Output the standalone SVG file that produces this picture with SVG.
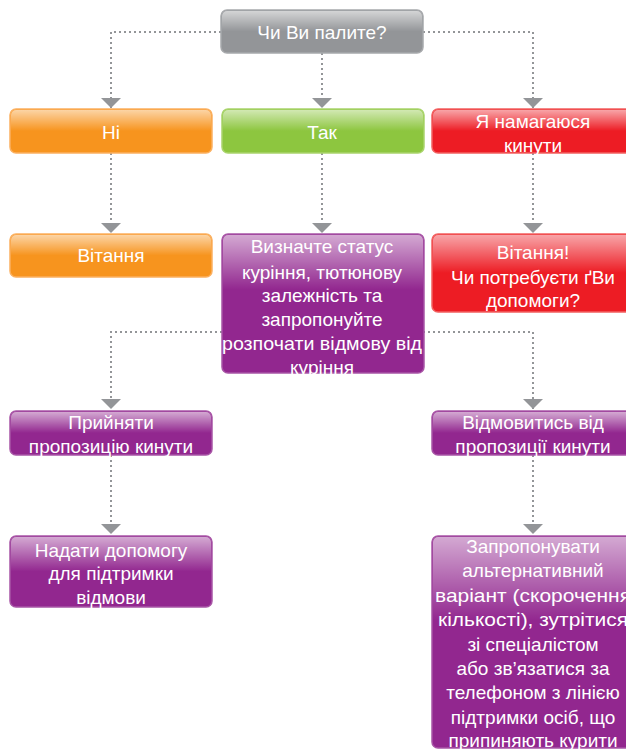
<svg xmlns="http://www.w3.org/2000/svg" width="626" height="750" viewBox="0 0 626 750">
<style>
  .lbl { font-family: "Liberation Sans", Arial, sans-serif; font-size: 19px; fill: #ffffff; text-anchor: middle; dominant-baseline: central; }
  .conn { fill: none; stroke: #939598; stroke-width: 2; stroke-dasharray: 2 3; marker-end: url(#arrow); }
  .gray { fill: #939598; stroke: #a7a9ac; }
  .orange { fill: #f7941e; stroke: #fbb060; }
  .green { fill: #8dc63f; stroke: #a9d46c; }
  .red { fill: #ed1c24; stroke: #f26060; }
  .purple { fill: #92278f; stroke: #a855a6; }
  .box { stroke-width: 1.5; }
  .gloss { stroke: none; }
</style>
<defs>
  <marker id="arrow" viewBox="0 0 10 20" markerWidth="10" markerHeight="20" refX="10" refY="10" orient="auto" markerUnits="userSpaceOnUse">
    <polygon points="0,0 10,10 0,20" fill="#939598"/>
  </marker>
  <linearGradient id="glossS" x1="0" y1="0" x2="0" y2="1">
    <stop offset="0" stop-color="#ffffff" stop-opacity="0.6"/>
    <stop offset="0.5" stop-color="#ffffff" stop-opacity="0"/>
  </linearGradient>
  <linearGradient id="glossT" x1="0" y1="0" x2="0" y2="1">
    <stop offset="0" stop-color="#ffffff" stop-opacity="0.6"/>
    <stop offset="0.4" stop-color="#ffffff" stop-opacity="0"/>
  </linearGradient>
</defs>

<g id="connectors">
  <path class="conn" d="M221,32 H111 V108"/>
  <path class="conn" d="M322,53 V108"/>
  <path class="conn" d="M423,32 H533 V108"/>
  <path class="conn" d="M111,153 V233"/>
  <path class="conn" d="M322,153 V233"/>
  <path class="conn" d="M533,153 V233"/>
  <path class="conn" d="M222,332 H111 V409"/>
  <path class="conn" d="M423,332 H533 V409"/>
  <path class="conn" d="M111,455 V534"/>
  <path class="conn" d="M533,455 V534"/>
</g>

<g id="n-smoke">
  <rect class="box gray" x="221" y="10" width="202" height="43" rx="6"/>
  <rect class="gloss" x="222" y="11" width="200" height="41" rx="5" fill="url(#glossS)"/>
  <text class="lbl" x="322" y="32">Чи Ви палите?</text>
</g>

<g id="n-no">
  <rect class="box orange" x="10" y="109" width="202" height="44" rx="6"/>
  <rect class="gloss" x="11" y="110" width="200" height="42" rx="5" fill="url(#glossS)"/>
  <text class="lbl" x="111" y="132">Ні</text>
</g>

<g id="n-yes">
  <rect class="box green" x="222" y="109" width="202" height="44" rx="6"/>
  <rect class="gloss" x="223" y="110" width="200" height="42" rx="5" fill="url(#glossS)"/>
  <text class="lbl" x="322" y="132">Так</text>
</g>

<g id="n-trying">
  <rect class="box red" x="432" y="109" width="202" height="44" rx="6"/>
  <rect class="gloss" x="433" y="110" width="200" height="42" rx="5" fill="url(#glossS)"/>
  <text class="lbl" x="533" y="121">Я намагаюся</text>
  <text class="lbl" x="533" y="145">кинути</text>
</g>

<g id="n-congrats">
  <rect class="box orange" x="10" y="234" width="202" height="43" rx="6"/>
  <rect class="gloss" x="11" y="235" width="200" height="41" rx="5" fill="url(#glossS)"/>
  <text class="lbl" x="111" y="255">Вітання</text>
</g>

<g id="n-assess">
  <rect class="box purple" x="222" y="234" width="202" height="139" rx="6"/>
  <rect class="gloss" x="223" y="235" width="200" height="137" rx="5" fill="url(#glossT)"/>
  <text class="lbl" x="322" y="246">Визначте статус</text>
  <text class="lbl" x="322" y="272">куріння, тютюнову</text>
  <text class="lbl" x="322" y="295">залежність та</text>
  <text class="lbl" x="322" y="319">запропонуйте</text>
  <text class="lbl" x="322" y="343" textLength="200" lengthAdjust="spacingAndGlyphs">розпочати відмову від</text>
  <text class="lbl" x="322" y="367">куріння</text>
</g>

<g id="n-help">
  <rect class="box red" x="432" y="234" width="202" height="78" rx="6"/>
  <rect class="gloss" x="433" y="235" width="200" height="76" rx="5" fill="url(#glossS)"/>
  <text class="lbl" x="533" y="252">Вітання!</text>
  <text class="lbl" x="533" y="277">Чи потребуєти ґВи</text>
  <text class="lbl" x="533" y="300">допомоги?</text>
</g>

<g id="n-accept">
  <rect class="box purple" x="10" y="411" width="202" height="44" rx="6"/>
  <rect class="gloss" x="11" y="412" width="200" height="42" rx="5" fill="url(#glossS)"/>
  <text class="lbl" x="111" y="422">Прийняти</text>
  <text class="lbl" x="111" y="446">пропозицію кинути</text>
</g>

<g id="n-decline">
  <rect class="box purple" x="432" y="411" width="202" height="44" rx="6"/>
  <rect class="gloss" x="433" y="412" width="200" height="42" rx="5" fill="url(#glossS)"/>
  <text class="lbl" x="533" y="422">Відмовитись від</text>
  <text class="lbl" x="533" y="446">пропозиції кинути</text>
</g>

<g id="n-support">
  <rect class="box purple" x="10" y="536" width="202" height="71" rx="6"/>
  <rect class="gloss" x="11" y="537" width="200" height="69" rx="5" fill="url(#glossS)"/>
  <text class="lbl" x="111" y="550">Надати допомогу</text>
  <text class="lbl" x="111" y="573">для підтримки</text>
  <text class="lbl" x="111" y="597">відмови</text>
</g>

<g id="n-alternative">
  <rect class="box purple" x="432" y="536" width="202" height="212" rx="6"/>
  <rect class="gloss" x="433" y="537" width="200" height="210" rx="5" fill="url(#glossT)"/>
  <text class="lbl" x="533" y="546">Запропонувати</text>
  <text class="lbl" x="533" y="570">альтернативний</text>
  <text class="lbl" x="533" y="595" textLength="196" lengthAdjust="spacingAndGlyphs">варіант (скорочення</text>
  <text class="lbl" x="533" y="619" textLength="190" lengthAdjust="spacingAndGlyphs">кількості), зутрітися</text>
  <text class="lbl" x="533" y="644">зі спеціалістом</text>
  <text class="lbl" x="533" y="668">або зв’язатися за</text>
  <text class="lbl" x="533" y="692">телефоном з лінією</text>
  <text class="lbl" x="533" y="717">підтримки осіб, що</text>
  <text class="lbl" x="533" y="740">припиняють курити</text>
</g>
</svg>
